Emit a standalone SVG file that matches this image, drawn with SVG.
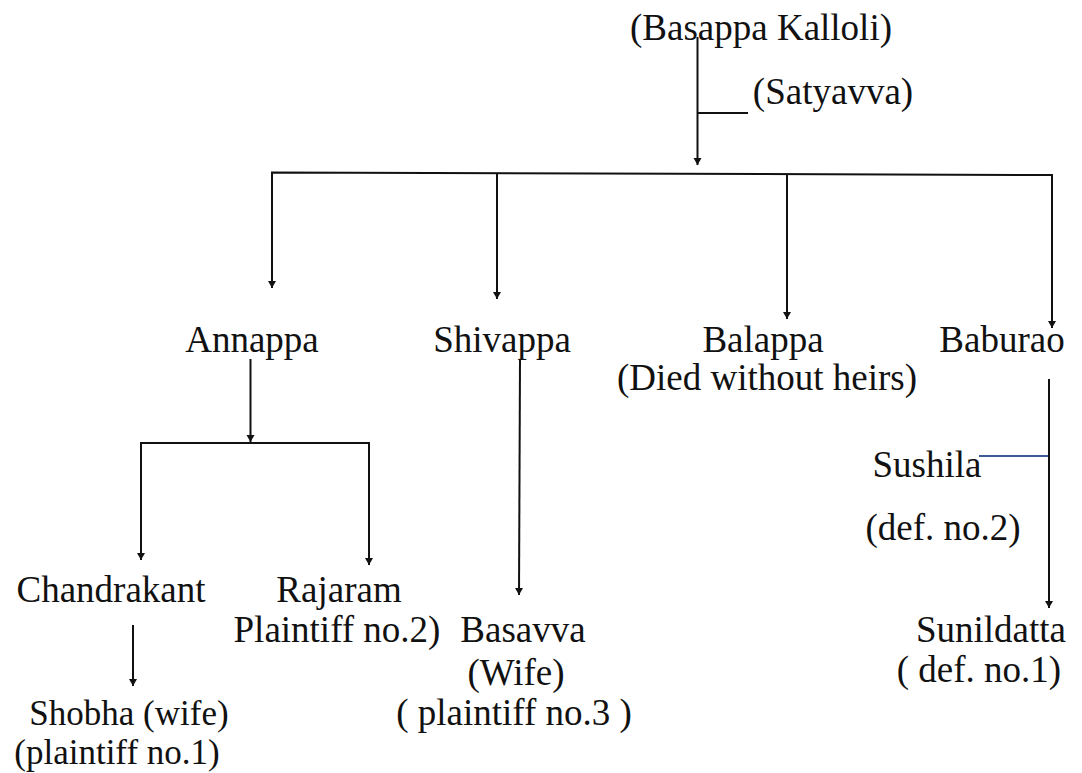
<svg xmlns="http://www.w3.org/2000/svg" width="1082" height="773" viewBox="0 0 1082 773">
<style>
text{font-family:"Liberation Serif","Times New Roman",serif;font-size:37px;fill:#111;text-anchor:middle}
.sm{font-size:35px}
.ln{stroke:#111;stroke-width:2;fill:none}
.arr{stroke:#111;stroke-width:2;fill:none;marker-end:url(#ah)}
.blue{stroke:#3a5a98;stroke-width:2;fill:none}
</style>
<defs>
<marker id="ah" markerUnits="userSpaceOnUse" markerWidth="10" markerHeight="10" viewBox="-1 -5 9 10" refX="7" refY="0" orient="auto">
<path d="M0,-4 L7,0 L0,4 z" fill="#111"/>
</marker>
</defs>
<rect width="1082" height="773" fill="#fff"/>
<g id="connectors">
<line class="arr" x1="697.5" y1="37" x2="697.5" y2="165"/>
<line class="ln" x1="697.5" y1="113" x2="748" y2="113"/>
<polyline class="ln" points="272,288 272,172.5 1052,175 1052,320"/>
<line class="arr" x1="272" y1="180" x2="272" y2="288"/>
<line class="arr" x1="497" y1="173" x2="497" y2="299"/>
<line class="arr" x1="787" y1="174" x2="787" y2="319"/>
<line class="arr" x1="1052" y1="175" x2="1052" y2="328"/>
<line class="arr" x1="250.5" y1="359" x2="250.5" y2="442"/>
<polyline class="ln" points="141,555 141,443 369,443 369,560"/>
<line class="arr" x1="141" y1="450" x2="141" y2="560"/>
<line class="arr" x1="369" y1="450" x2="369" y2="565"/>
<line class="arr" x1="520" y1="359" x2="519" y2="595"/>
<line class="arr" x1="1049" y1="379" x2="1049" y2="608"/>
<line class="blue" x1="979" y1="456" x2="1048" y2="456"/>
<line class="arr" x1="133" y1="625" x2="133" y2="686"/>
</g>
<g id="n-basappa"><text x="761" y="40">(Basappa Kalloli)</text></g>
<g id="n-satyavva"><text x="833" y="104">(Satyavva)</text></g>
<g id="n-annappa"><text x="252" y="352">Annappa</text></g>
<g id="n-shivappa"><text x="502" y="352">Shivappa</text></g>
<g id="n-balappa"><text x="763" y="352">Balappa</text><text x="767" y="390">(Died without heirs)</text></g>
<g id="n-baburao"><text x="1002" y="352">Baburao</text></g>
<g id="n-sushila"><text x="927" y="477">Sushila</text><text x="943" y="540">(def. no.2)</text></g>
<g id="n-sunildatta"><text x="991" y="642">Sunildatta</text><text x="979" y="682">( def. no.1)</text></g>
<g id="n-chandrakant"><text x="111" y="602">Chandrakant</text></g>
<g id="n-rajaram"><text x="339" y="602">Rajaram</text><text x="337" y="642">Plaintiff no.2)</text></g>
<g id="n-shobha"><text class="sm" x="129" y="725">Shobha (wife)</text><text class="sm" x="117" y="764">(plaintiff no.1)</text></g>
<g id="n-basavva"><text x="523" y="642">Basavva</text><text x="516" y="685">(Wife)</text><text x="514" y="725">( plaintiff no.3 )</text></g>
</svg>
